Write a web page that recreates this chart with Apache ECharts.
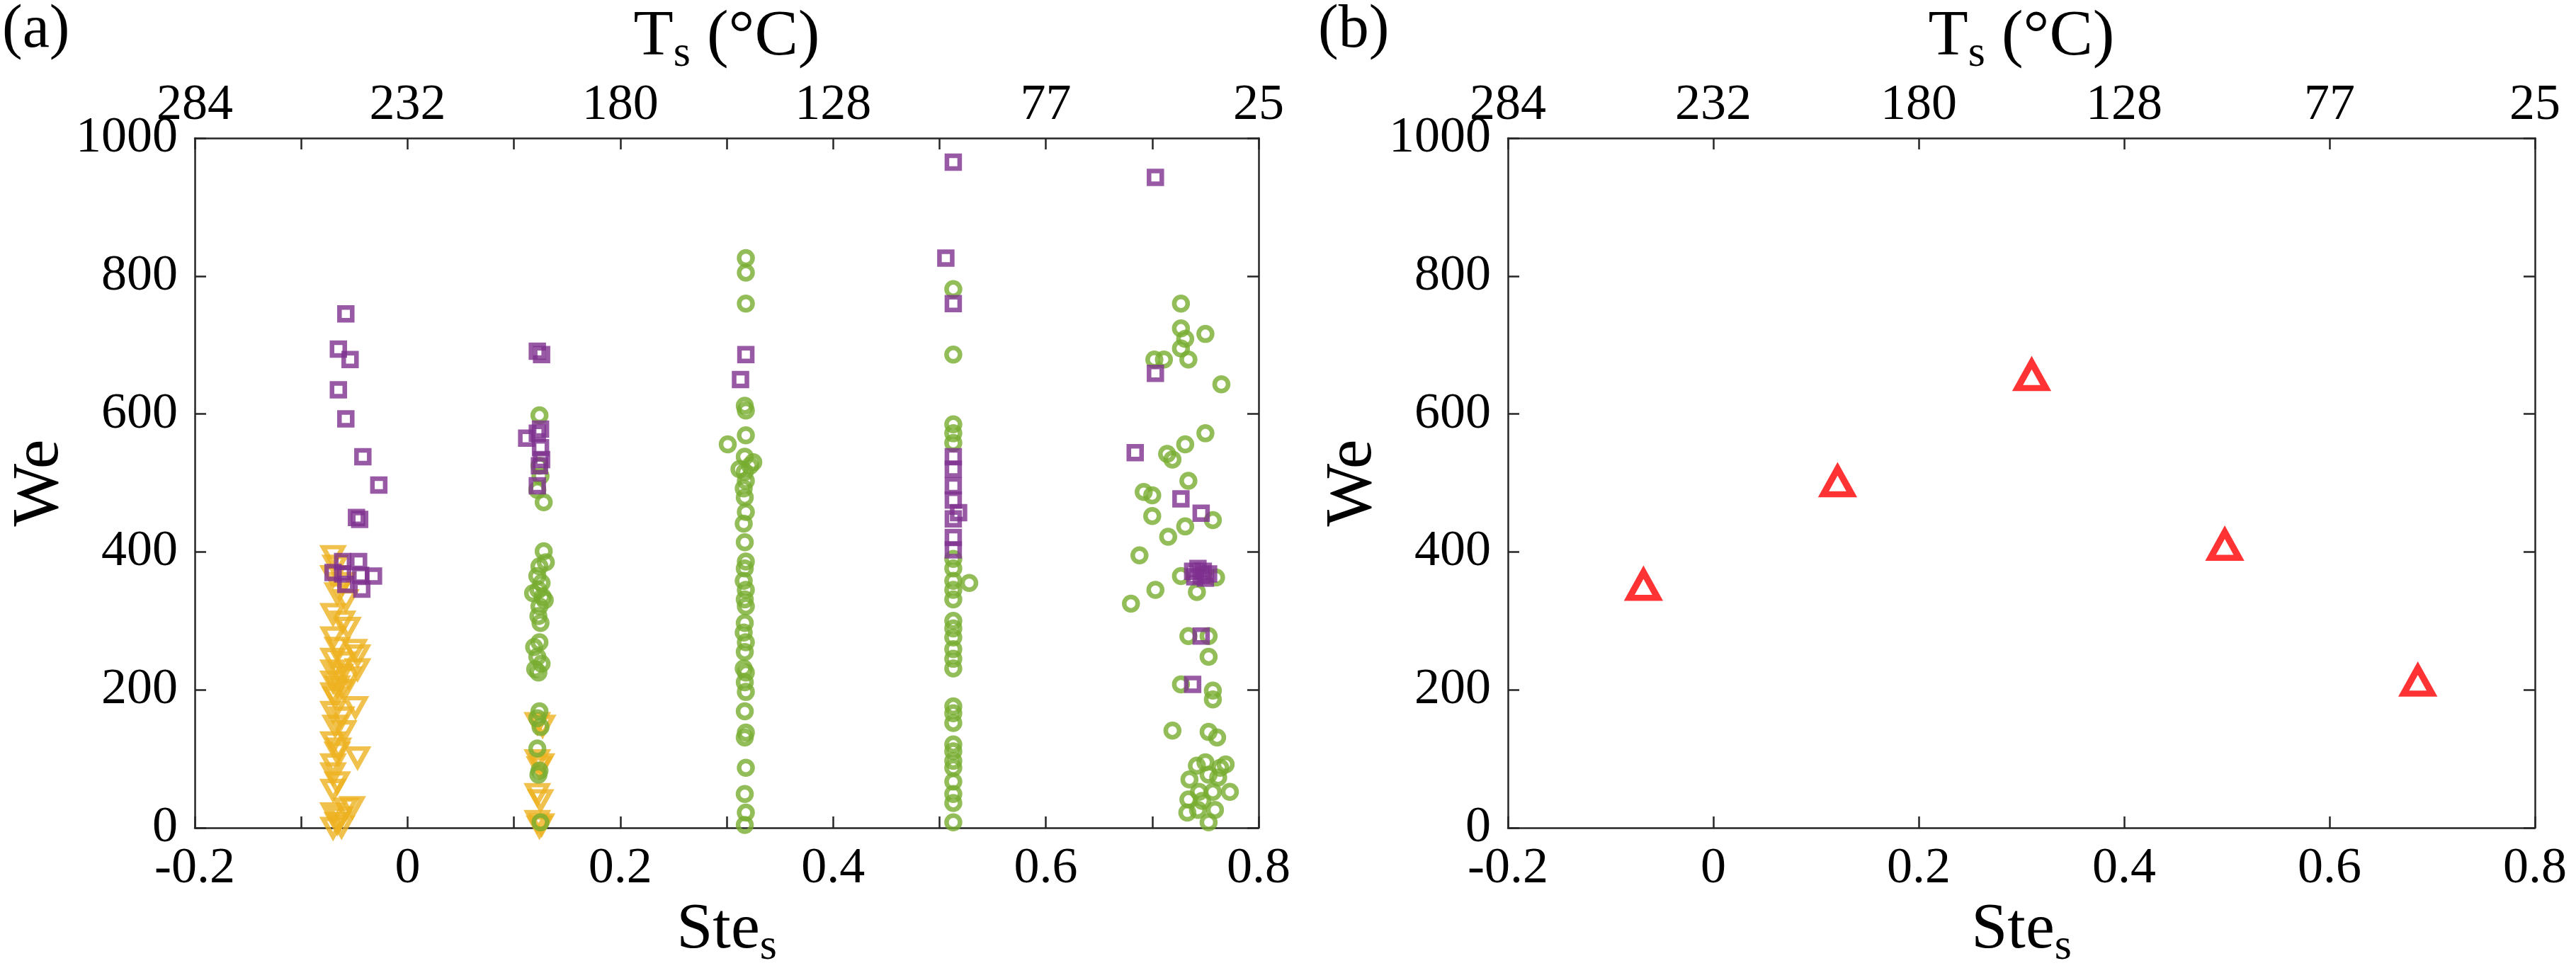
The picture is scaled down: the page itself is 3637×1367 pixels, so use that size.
<!DOCTYPE html>
<html>
<head>
<meta charset="utf-8">
<script src="https://cdn.jsdelivr.net/npm/echarts@6/dist/echarts.min.js"></script>
<style>
  html, body { margin: 0; padding: 0; background: #fff; }
  #main { width: 3637px; height: 1367px; }
</style>
</head>
<body>
<div id="main"></div>
<script>
// ---- data ----
// Ts (°C) labels on the top axis, one per major Ste tick (-0.2 .. 0.8)
var tempLabels = ['284', '232', '180', '128', '77', '25'];

// panel (a): yellow downward triangles [Ste, We]
var triA = [
  [-0.070, 394], [-0.068, 380], [-0.070, 365], [-0.061, 355], [-0.066, 340], [-0.058, 330],
  [-0.070, 310], [-0.061, 299], [-0.056, 290], [-0.070, 276], [-0.066, 261], [-0.050, 258],
  [-0.047, 250], [-0.070, 245], [-0.060, 240], [-0.047, 230], [-0.070, 228], [-0.063, 222],
  [-0.055, 218], [-0.070, 212], [-0.066, 205], [-0.060, 200], [-0.070, 195], [-0.068, 189],
  [-0.049, 175], [-0.070, 168], [-0.062, 160], [-0.068, 148], [-0.060, 140], [-0.070, 124],
  [-0.065, 115], [-0.066, 109], [-0.047, 102], [-0.070, 92], [-0.070, 79], [-0.066, 66],
  [-0.070, 55], [-0.058, 28], [-0.052, 30], [-0.070, 21], [-0.063, 15], [-0.066, 7],
  [-0.062, 2], [-0.070, 0],
  [0.122, 152], [0.127, 148], [0.122, 98], [0.126, 92], [0.124, 88], [0.122, 49],
  [0.125, 40], [0.122, 10], [0.126, 5], [0.124, 2]
];

// panel (a): green circles [Ste, We]
var circA = [
  [0.124, 598], [0.124, 525], [0.125, 510], [0.122, 490], [0.128, 472], [0.128, 401],
  [0.130, 385], [0.124, 379], [0.122, 365], [0.126, 355], [0.123, 345], [0.118, 340],
  [0.127, 335], [0.129, 330], [0.124, 321], [0.123, 307], [0.125, 297], [0.124, 269],
  [0.119, 262], [0.122, 248], [0.126, 238], [0.120, 230], [0.123, 225], [0.124, 169],
  [0.122, 159], [0.125, 146], [0.122, 115], [0.124, 83], [0.123, 77], [0.125, 8],
  [0.318, 826], [0.318, 805], [0.318, 760], [0.317, 612], [0.318, 605], [0.318, 569],
  [0.301, 556], [0.317, 538], [0.325, 530], [0.322, 525], [0.312, 520], [0.317, 516],
  [0.318, 503], [0.316, 492], [0.317, 479], [0.318, 458], [0.316, 441], [0.317, 414],
  [0.318, 386], [0.317, 376], [0.316, 358], [0.318, 345], [0.317, 331], [0.318, 321],
  [0.317, 297], [0.316, 283], [0.318, 269], [0.317, 255], [0.316, 231], [0.318, 225],
  [0.317, 211], [0.318, 197], [0.317, 169], [0.318, 138], [0.317, 131], [0.318, 87],
  [0.317, 49], [0.318, 22], [0.317, 4],
  [0.513, 781], [0.513, 686], [0.513, 585], [0.513, 572], [0.513, 558], [0.513, 390],
  [0.513, 376], [0.513, 358], [0.528, 355], [0.513, 345], [0.513, 331], [0.513, 300],
  [0.513, 289], [0.513, 276], [0.513, 259], [0.513, 245], [0.513, 231], [0.513, 176],
  [0.513, 166], [0.513, 152], [0.513, 121], [0.513, 111], [0.513, 97], [0.513, 87],
  [0.513, 67], [0.513, 49], [0.513, 36], [0.513, 8],
  [0.727, 760], [0.727, 724], [0.731, 709], [0.750, 716], [0.727, 695], [0.702, 679],
  [0.711, 679], [0.734, 679], [0.765, 643], [0.750, 572], [0.731, 556], [0.714, 542],
  [0.719, 534], [0.734, 503], [0.692, 487], [0.700, 482], [0.700, 452], [0.757, 446],
  [0.731, 437], [0.715, 422], [0.688, 395], [0.727, 365], [0.760, 363], [0.742, 342],
  [0.703, 345], [0.680, 325], [0.734, 278], [0.753, 278], [0.753, 248], [0.727, 208],
  [0.757, 199], [0.757, 186], [0.719, 141], [0.753, 139], [0.761, 131], [0.742, 90],
  [0.750, 95], [0.769, 92], [0.764, 87], [0.735, 70], [0.753, 77], [0.762, 73],
  [0.744, 52], [0.757, 52], [0.773, 52], [0.734, 41], [0.747, 39], [0.733, 22],
  [0.743, 26], [0.759, 26], [0.753, 8]
];

// panel (a): purple squares [Ste, We]
var sqA = [
  [-0.058, 745], [-0.065, 694], [-0.054, 679], [-0.065, 635], [-0.058, 593], [-0.042, 538],
  [-0.027, 497], [-0.048, 450], [-0.045, 447], [-0.061, 386], [-0.046, 386], [-0.070, 370],
  [-0.061, 368], [-0.044, 366], [-0.032, 365], [-0.058, 353], [-0.043, 346],
  [0.122, 691], [0.126, 686], [0.112, 565], [0.122, 572], [0.125, 578], [0.125, 551],
  [0.126, 534], [0.124, 525], [0.122, 496],
  [0.318, 686], [0.313, 650],
  [0.513, 965], [0.506, 826], [0.513, 760], [0.513, 538], [0.513, 520], [0.513, 496],
  [0.513, 475], [0.518, 457], [0.513, 448], [0.513, 421], [0.513, 403],
  [0.703, 943], [0.703, 659], [0.684, 544], [0.727, 477], [0.746, 456],
  [0.738, 372], [0.740, 364], [0.743, 376], [0.746, 366], [0.748, 372], [0.750, 362],
  [0.753, 368], [0.746, 278], [0.738, 208]
];

// panel (b): red triangles
var steB = [-0.068, 0.121, 0.310, 0.498, 0.686];
var weB = [352, 502, 656, 410, 213];

// ---- styling ----
var FONT = 'Liberation Serif';
var AXIS_COLOR = '#262626';

var nameRich = {
  m: { fontSize: 92, fontFamily: FONT, color: '#000', lineHeight: 110 },
  s: { fontSize: 62, fontFamily: FONT, color: '#000', lineHeight: 110, verticalAlign: 'bottom' }
};

function steLabel(v) {
  var k = Math.round(v * 10);
  if (k % 2 !== 0) return '';
  return String(k / 10);
}
function tempLabel(v) {
  var k = Math.round(v * 10);
  if (k % 2 !== 0) return '';
  return tempLabels[(k + 2) / 2];
}

function xAxisDef(grid, pos, interval, fmt, name, gap, margin) {
  return {
    type: 'value', gridIndex: grid, position: pos,
    min: -0.2, max: 0.8, interval: interval,
    axisLine: { onZero: false, lineStyle: { color: AXIS_COLOR, width: 2.5 } },
    axisTick: { inside: true, length: 16, lineStyle: { color: AXIS_COLOR, width: 2.5 } },
    splitLine: { show: false },
    axisLabel: { formatter: fmt, fontSize: 72, fontFamily: FONT, color: '#000', margin: margin },
    name: name, nameLocation: 'middle', nameGap: gap,
    nameTextStyle: { rich: nameRich }
  };
}

function yAxisDef(grid, pos, showLabel, gap) {
  return {
    type: 'value', gridIndex: grid, position: pos,
    min: 0, max: 1000, interval: 200,
    axisLine: { onZero: false, lineStyle: { color: AXIS_COLOR, width: 2.5 } },
    axisTick: { inside: true, length: 16, lineStyle: { color: AXIS_COLOR, width: 2.5 } },
    splitLine: { show: false },
    axisLabel: {
      show: showLabel, fontSize: 72, fontFamily: FONT, color: '#000', margin: 24,
      padding: [16, 0, 0, 0],
      formatter: function (v) { return String(v); }
    },
    name: showLabel ? 'We' : '', nameLocation: 'middle', nameGap: gap,
    nameTextStyle: { fontSize: 94, fontFamily: FONT, color: '#000' }
  };
}

var sName = '{m|Ste}{s|s}';
var tName = '{m|T}{s|s}{m| (°C)}';

var option = {
  animation: false,
  backgroundColor: '#fff',
  title: [
    { text: '(a)', left: 3, top: 0, padding: 0,
      textStyle: { fontSize: 86, fontFamily: FONT, fontWeight: 'normal', color: '#000' } },
    { text: '(b)', left: 1861, top: 0, padding: 0,
      textStyle: { fontSize: 86, fontFamily: FONT, fontWeight: 'normal', color: '#000' } }
  ],
  grid: [
    { left: 275, top: 195, width: 1502, height: 974, containLabel: false, outerBoundsMode: 'none' },
    { left: 2129, top: 195, width: 1450, height: 974, containLabel: false, outerBoundsMode: 'none' }
  ],
  xAxis: [
    xAxisDef(0, 'bottom', 0.1, steLabel, sName, 56, 22),
    xAxisDef(0, 'top', 0.1, tempLabel, tName, 83, 10),
    xAxisDef(1, 'bottom', 0.2, steLabel, sName, 56, 22),
    xAxisDef(1, 'top', 0.2, tempLabel, tName, 83, 10)
  ],
  yAxis: [
    yAxisDef(0, 'left', true, 110),
    yAxisDef(0, 'right', false, 0),
    yAxisDef(1, 'left', true, 122),
    yAxisDef(1, 'right', false, 0)
  ],
  series: [
    {
      type: 'scatter', xAxisIndex: 0, yAxisIndex: 0, silent: true,
      data: triA, symbol: 'triangle', symbolRotate: 180, symbolSize: [28, 25],
      itemStyle: { color: 'rgba(0,0,0,0)', borderColor: '#EDB120', borderWidth: 6.5, borderJoin: 'miter' }
    },
    {
      type: 'scatter', xAxisIndex: 0, yAxisIndex: 0, silent: true,
      data: circA, symbol: 'circle', symbolSize: 19,
      itemStyle: { color: 'rgba(0,0,0,0)', borderColor: '#77AC30', borderWidth: 6.5 }
    },
    {
      type: 'scatter', xAxisIndex: 0, yAxisIndex: 0, silent: true,
      data: sqA, symbol: 'rect', symbolSize: 18,
      itemStyle: { color: 'rgba(0,0,0,0)', borderColor: '#7E2F8E', borderWidth: 6.5, borderJoin: 'miter' }
    },
    {
      type: 'scatter', xAxisIndex: 2, yAxisIndex: 2, silent: true,
      data: steB.map(function (s, i) { return [s, weB[i]]; }),
      symbol: 'triangle', symbolSize: [40, 36],
      itemStyle: { color: 'rgba(0,0,0,0)', borderColor: '#FF0000', borderWidth: 9, borderJoin: 'miter' }
    }
  ]
};

var chart = echarts.init(document.getElementById('main'), null, { renderer: 'canvas' });
chart.setOption(option);
</script>
</body>
</html>
